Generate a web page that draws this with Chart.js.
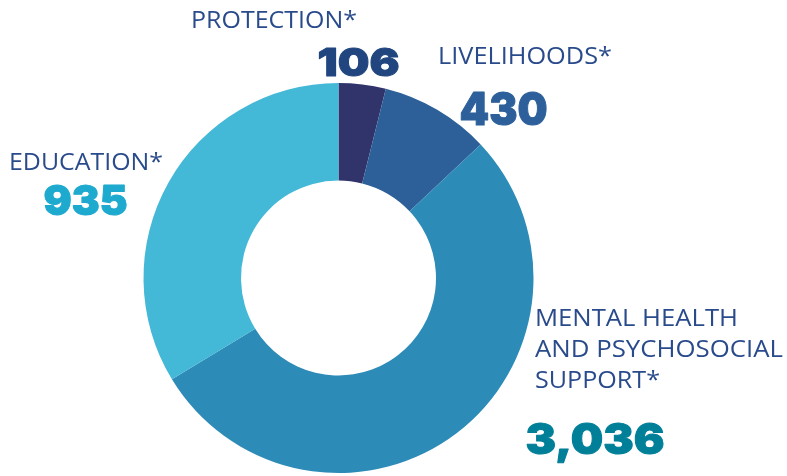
<!DOCTYPE html>
<html>
<head>
<meta charset="utf-8">
<style>
  html, body { margin: 0; padding: 0; background: #ffffff; }
  canvas { display: block; }
</style>
<script src="https://cdn.jsdelivr.net/npm/chart.js@4"></script>
</head>
<body>
<canvas id="programChart" width="787" height="476"></canvas>
<script>
// categories, clockwise from 12 o'clock
const categories = ['PROTECTION*', 'LIVELIHOODS*', 'MENTAL HEALTH AND PSYCHOSOCIAL SUPPORT*', 'EDUCATION*'];
// numbers printed next to each slice
const counts = [106, 430, 3036, 935];
// slice sizes as drawn in the picture (% of the ring)
const shares = [3.9, 9.1, 53.3, 33.7];

const sliceColors = ['#31346b', '#2d6099', '#2d8bb8', '#43b8d7'];
const nameColor = '#2a4b8b';
const countColors = ['#21467f', '#2d609b', '#007f99', '#1ea9cf'];

// where each label block sits: name lines, then the number
const labelSpots = [
  { lines: [[191, 28, 166]], count: [317, 76, 83, 29] },
  { lines: [[438, 64, 174]], count: [459, 125, 89, 33] },
  { lines: [[535, 326, 203], [535, 357, 248], [535, 388, 125]], count: [525, 454, 140, 31] },
  { lines: [[9, 170, 154]], count: [43, 215, 85, 30] }
];
const nameLines = [
  ['PROTECTION*'],
  ['LIVELIHOODS*'],
  ['MENTAL HEALTH', 'AND PSYCHOSOCIAL', 'SUPPORT*'],
  ['EDUCATION*']
];

function drawFitted(ctx, text, x, y, width, font, stroke) {
  ctx.save();
  ctx.font = font;
  const w = ctx.measureText(text).width;
  ctx.translate(x, y);
  ctx.scale(width / w, 1);
  if (stroke) {
    ctx.lineWidth = stroke;
    ctx.lineJoin = 'round';
    ctx.strokeStyle = ctx.fillStyle;
    ctx.strokeText(text, 0, 0);
  }
  ctx.fillText(text, 0, 0);
  ctx.restore();
}

const labelPlugin = {
  id: 'sliceLabels',
  afterDraw(chart) {
    const ctx = chart.ctx;
    ctx.save();
    ctx.textBaseline = 'alphabetic';
    ctx.textAlign = 'left';
    labelSpots.forEach((spot, i) => {
      ctx.fillStyle = nameColor;
      spot.lines.forEach((ln, j) => {
        drawFitted(ctx, nameLines[i][j], ln[0], ln[1], ln[2], '400 23px "Open Sans"');
      });
      const c = spot.count;
      const size = Math.round(c[3] / 0.74);
      ctx.fillStyle = countColors[i];
      drawFitted(ctx, counts[i].toLocaleString('en-US'), c[0] + 0.5, c[1] - 0.5, c[2] - 1, '900 ' + size + 'px Inter', 1);
    });
    ctx.restore();
  }
};

new Chart(document.getElementById('programChart').getContext('2d'), {
  type: 'doughnut',
  data: {
    labels: categories,
    datasets: [{
      data: shares,
      backgroundColor: sliceColors,
      borderWidth: 0
    }]
  },
  options: {
    responsive: false,
    animation: false,
    cutout: '50%',
    layout: { padding: { left: 143.5, right: 253.5, top: 83, bottom: 3 } },
    plugins: {
      legend: { display: false },
      tooltip: { enabled: false }
    }
  },
  plugins: [labelPlugin]
});
</script>
</body>
</html>
